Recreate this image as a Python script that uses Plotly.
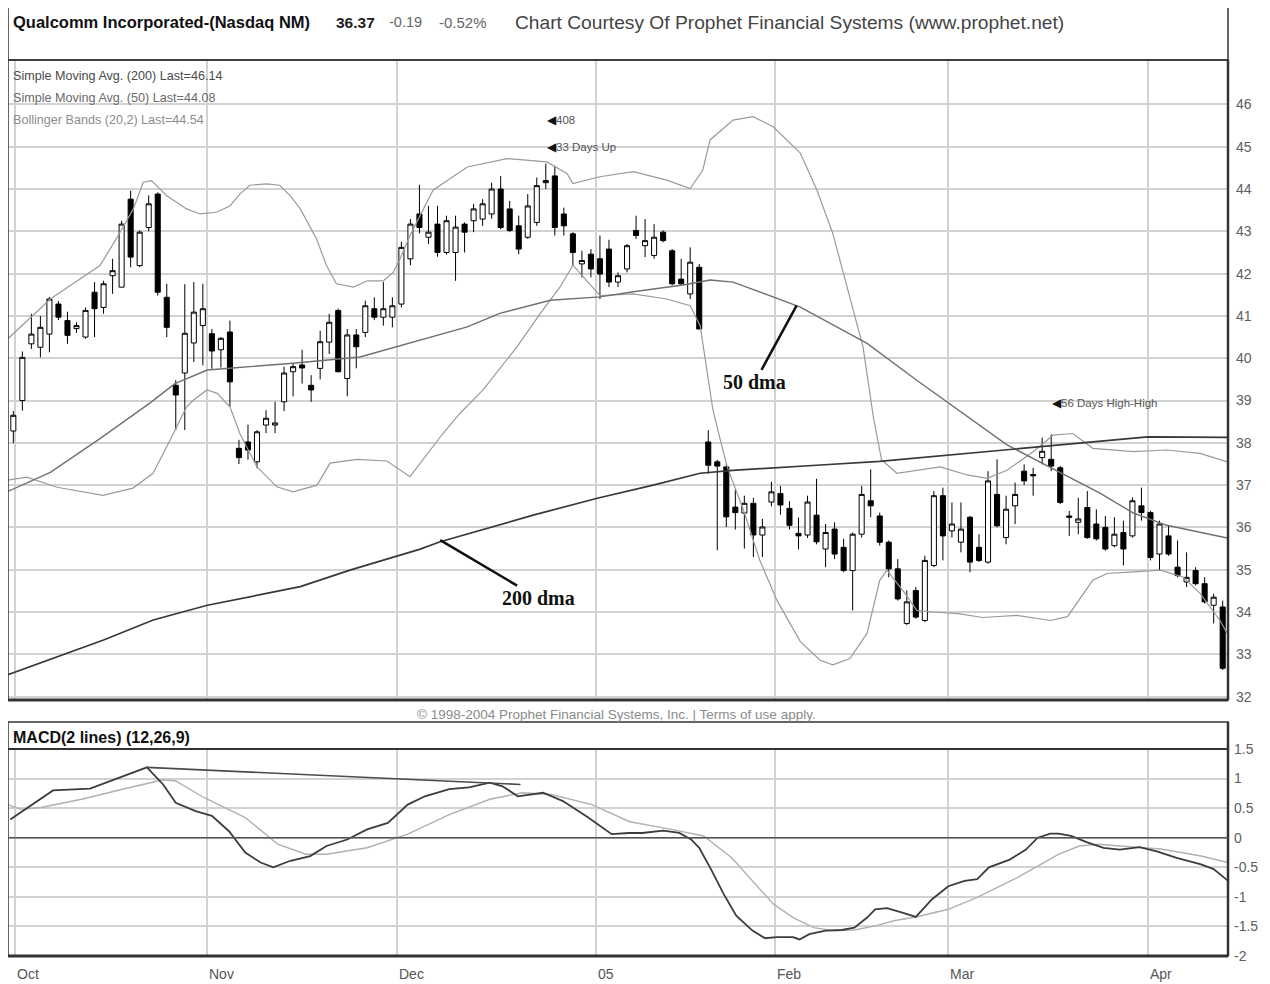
import plotly.graph_objects as go

# ---------------- data ----------------
day_index = list(range(135))  # trading days, 30 Sep 2004 .. 13 Apr 2005

opens = [38.28, 39.00, 40.34, 40.26, 40.57, 41.28, 40.89, 40.70, 40.50, 41.56,
         41.20, 41.95, 41.68, 43.76, 42.19, 43.09, 43.88, 41.44, 39.36, 39.65,
         40.36, 40.77, 40.58, 40.20, 40.62, 37.87, 38.02, 37.55, 38.42, 38.42,
         38.97, 39.68, 39.84, 39.36, 39.76, 40.38, 41.13, 39.52, 40.55, 40.61,
         41.17, 40.97, 40.97, 41.28, 42.35, 43.41, 42.86, 43.17, 42.50, 42.50,
         43.17, 43.25, 43.29, 43.41, 44.00, 43.53, 43.13, 42.86, 43.21, 44.15,
         44.31, 43.41, 42.94, 42.23, 42.46, 42.35, 42.58, 41.80, 42.11, 43.02,
         42.66, 42.43, 42.98, 42.54, 41.87, 41.52, 42.15, 38.02, 37.55, 37.43,
         36.48, 36.34, 36.57, 35.82, 36.60, 36.80, 36.45, 35.86, 35.82, 36.29,
         35.49, 35.96, 35.53, 34.98, 35.84, 36.63, 36.27, 35.65, 35.02, 33.73,
         34.51, 33.80, 35.10, 36.75, 35.92, 35.65, 36.24, 35.53, 35.18, 36.78,
         35.76, 36.51, 37.33, 37.25, 37.65, 37.61, 37.41, 36.27, 36.12, 36.47,
         36.08, 36.00, 35.57, 35.88, 35.80, 36.51, 36.35, 35.37, 35.80, 35.06,
         34.71, 34.98, 34.67, 34.16, 34.12]
highs = [38.75, 40.16, 41.05, 41.00, 41.45, 41.35, 41.10, 40.85, 41.20, 41.80,
         41.83, 42.35, 43.25, 43.96, 43.02, 43.85, 43.92, 41.76, 39.48, 41.75,
         41.80, 41.76, 40.69, 40.50, 40.89, 38.07, 38.43, 38.30, 38.77, 38.97,
         39.80, 39.88, 40.20, 39.60, 40.65, 41.05, 41.17, 40.69, 40.69, 41.36,
         41.44, 41.80, 41.44, 42.75, 43.29, 44.10, 43.60, 43.60, 43.37, 43.37,
         43.21, 43.65, 43.76, 44.15, 44.31, 43.72, 43.37, 43.88, 44.27, 44.60,
         44.55, 43.56, 42.98, 42.54, 42.58, 42.90, 42.80, 42.03, 42.70, 43.37,
         43.29, 43.17, 43.02, 42.58, 42.35, 42.62, 42.23, 38.30, 37.60, 37.49,
         36.90, 36.75, 36.70, 36.20, 37.08, 36.98, 36.62, 36.23, 36.75, 37.15,
         36.08, 36.12, 35.73, 35.88, 36.98, 37.37, 36.35, 35.69, 35.25, 34.51,
         34.59, 35.33, 36.86, 36.94, 36.59, 36.59, 36.27, 35.84, 37.33, 37.61,
         36.75, 37.06, 37.49, 37.41, 38.12, 38.20, 37.45, 36.39, 36.70, 36.86,
         36.43, 36.27, 36.24, 36.16, 36.71, 36.94, 36.39, 36.16, 36.04, 35.69,
         35.41, 35.06, 34.82, 34.43, 34.27]
lows = [37.99, 38.76, 40.22, 40.02, 40.14, 40.90, 40.34, 40.60, 40.46, 40.50,
        41.05, 41.52, 41.68, 42.15, 42.15, 43.00, 41.48, 40.50, 38.30, 38.30,
        39.91, 39.83, 39.75, 39.78, 38.85, 37.50, 37.60, 37.40, 38.23, 38.23,
        38.75, 39.10, 39.40, 38.97, 39.50, 40.10, 39.67, 39.10, 39.76, 40.50,
        40.90, 40.77, 40.73, 41.20, 42.20, 42.95, 42.70, 42.40, 42.45, 41.83,
        42.50, 42.98, 43.13, 43.30, 43.05, 42.98, 42.46, 42.82, 43.13, 44.00,
        42.90, 42.90, 42.19, 41.91, 41.91, 41.40, 41.68, 41.68, 42.03, 42.82,
        42.39, 42.35, 42.74, 41.72, 41.72, 41.40, 40.69, 37.27, 35.46, 36.01,
        35.95, 35.50, 35.30, 35.30, 36.50, 36.30, 35.95, 35.48, 35.75, 35.60,
        35.06, 35.25, 34.94, 34.04, 35.76, 36.24, 35.57, 34.82, 34.27, 33.69,
        33.84, 33.76, 35.06, 35.22, 35.76, 35.41, 34.94, 35.18, 35.14, 36.00,
        35.60, 36.08, 37.00, 36.75, 37.49, 37.33, 36.55, 35.80, 35.84, 35.73,
        35.69, 35.45, 35.53, 35.10, 35.76, 36.16, 35.22, 34.98, 35.33, 34.82,
        34.59, 34.63, 34.20, 33.73, 32.63]
closes = [38.65, 40.02, 40.57, 40.73, 41.40, 40.97, 40.54, 40.77, 41.13, 41.17,
          41.76, 42.07, 43.17, 42.39, 42.98, 43.65, 41.56, 40.73, 39.13, 40.59,
          41.09, 41.17, 40.17, 40.47, 39.44, 37.65, 37.83, 38.26, 38.58, 38.47,
          39.65, 39.80, 39.77, 39.25, 40.39, 40.85, 39.68, 40.55, 40.27, 41.24,
          40.97, 41.17, 41.24, 42.62, 43.17, 43.09, 42.98, 42.50, 43.25, 43.10,
          42.98, 43.53, 43.65, 44.00, 43.09, 43.02, 42.58, 43.60, 44.08, 44.20,
          43.09, 43.13, 42.50, 42.31, 42.11, 41.99, 41.80, 41.95, 42.66, 42.90,
          42.78, 42.86, 42.78, 41.76, 41.76, 42.27, 40.69, 37.47, 37.45, 36.25,
          36.35, 36.57, 35.82, 36.01, 36.84, 36.53, 36.05, 35.80, 36.60, 35.66,
          35.88, 35.37, 34.98, 35.84, 36.78, 36.51, 35.65, 35.02, 34.31, 34.24,
          33.88, 35.22, 36.75, 35.80, 36.08, 35.96, 35.18, 35.22, 37.10, 36.04,
          36.43, 36.78, 37.10, 37.22, 37.80, 37.45, 36.59, 36.24, 36.20, 35.76,
          35.73, 35.49, 35.84, 35.49, 36.63, 36.35, 35.29, 36.08, 35.37, 34.86,
          34.82, 34.67, 34.24, 34.35, 32.67]

sma200_x = [-0.6, 10, 15.5, 21.5, 31.8, 37.3, 45, 47.3, 57.6, 64.7, 70.9, 76.1,
            79.7, 85, 89, 96, 103.6, 113, 125.7, 134.6]
sma200 = [32.52, 33.34, 33.81, 34.16, 34.60, 34.99, 35.48, 35.66, 36.29, 36.69,
          37.00, 37.28, 37.35, 37.41, 37.47, 37.56, 37.71, 37.90, 38.14, 38.13]

sma50_x = [-0.6, 4.1, 9.6, 15.2, 17.9, 21.5, 24.3, 29.6, 31.0, 38.4, 45.1, 50.3,
           53.9, 59.5, 65.0, 68.7, 74.2, 77.2, 79.75, 87.2, 94.6, 100.1, 110.1,
           116.8, 120.4, 124.1, 127.8, 134.5]
sma50 = [36.85, 37.30, 38.10, 38.95, 39.40, 39.72, 39.77, 39.85, 39.88, 40.03,
         40.43, 40.74, 41.06, 41.37, 41.45, 41.57, 41.73, 41.85, 41.80, 41.21,
         40.35, 39.48, 37.95, 37.20, 36.81, 36.34, 36.05, 35.75]

bb_upper_x = [-0.6, 4.1, 9.6, 11.4, 13.3, 14.4, 15.3, 17.0, 19.2, 20.7, 22.5,
              24.0, 25.1, 26.2, 28.1, 29.5, 30.7, 31.8, 33.6, 34.7, 35.8, 37.7,
              39.2, 41.0, 42.1, 42.85, 43.95, 45.06, 46.5, 50.3, 54.7, 59.1,
              61.35, 62.0, 65.0, 68.7, 72.4, 75.0, 76.4, 77.2, 79.75, 81.96,
              84.2, 87.2, 89.05, 90.8, 92.7, 94.15, 95.3, 96.2, 97.9, 100.1,
              102.7, 105.7, 107.9, 110.1, 113.0, 115.2, 117.4, 119.6, 124.1,
              127.8, 131.5, 134.5]
bb_upper = [40.46, 41.40, 42.19, 42.82, 43.53, 44.16, 44.20, 43.84, 43.53, 43.41,
            43.45, 43.60, 43.88, 44.09, 44.12, 44.09, 43.84, 43.53, 42.82, 42.19,
            41.76, 41.68, 41.83, 41.83, 42.03, 42.35, 42.90, 43.37, 43.97, 44.52,
            44.72, 44.64, 44.37, 44.13, 44.29, 44.41, 44.21, 44.01, 44.45, 45.16,
            45.63, 45.71, 45.47, 44.85, 43.97, 42.95, 41.45, 40.27, 38.60, 37.60,
            37.28, 37.35, 37.43, 37.24, 37.16, 37.35, 37.79, 38.18, 38.22, 37.87,
            37.79, 37.83, 37.75, 37.55]

bb_lower_x = [-0.6, 1.5, 4.84, 9.94, 13.26, 15.48, 17.36, 19.2, 19.9, 21.46,
              22.6, 24.0, 25.1, 27.0, 29.2, 31.0, 33.65, 35.1, 38.08, 41.4,
              43.95, 46.5, 47.6, 49.5, 52.05, 55.8, 58.4, 60.6, 62.0, 65.0,
              68.66, 72.4, 75.0, 76.1, 77.5, 78.3, 79.1, 80.9, 82.7, 84.6,
              87.2, 89.4, 90.8, 92.7, 94.6, 96.0, 96.8, 98.8, 100.1, 101.9,
              104.7, 107.4, 111.2, 114.9, 116.8, 119.6, 121.2, 124.1, 127.1,
              129.6, 131.5, 133.7, 134.5]
bb_lower = [37.12, 37.19, 36.95, 36.76, 36.93, 37.28, 38.06, 38.85, 39.00, 39.25,
            39.17, 38.85, 38.22, 37.43, 36.96, 36.84, 37.00, 37.52, 37.61, 37.57,
            37.20, 37.90, 38.22, 38.70, 39.25, 40.27, 41.06, 41.69, 42.20, 41.48,
            41.52, 41.40, 41.24, 40.77, 38.80, 38.10, 37.43, 36.41, 35.23, 34.28,
            33.30, 32.86, 32.75, 32.90, 33.50, 34.75, 34.99, 34.44, 34.04, 34.00,
            33.96, 33.87, 33.92, 33.80, 33.89, 34.75, 34.91, 34.95, 34.99, 34.83,
            34.44, 33.80, 33.50]

macd_x = [-0.34, 4.4, 8.5, 11.65, 14.8, 16.6, 18.0, 20.2, 22.0, 23.9, 25.7, 27.4,
          28.8, 30.7, 32.9, 34.7, 37.0, 39.2, 41.5, 43.7, 45.6, 48.3, 50.5, 52.8,
          54.2, 55.9, 58.7, 60.9, 63.7, 66.3, 68.2, 69.7, 72.0, 73.8, 75.1, 76.0,
          77.4, 78.7, 80.1, 81.9, 83.3, 84.6, 86.4, 87.1, 88.2, 90.0, 91.8, 93.2,
          94.6, 95.5, 96.8, 98.6, 100.0, 101.8, 103.6, 105.4, 106.8, 108.1,
          110.4, 112.2, 113.5, 114.9, 115.8, 117.2, 119.0, 120.8, 122.6, 124.8,
          126.7, 128.9, 131.6, 133.0, 133.9, 134.6]
macd = [0.31, 0.80, 0.83, 1.01, 1.19, 0.90, 0.59, 0.45, 0.37, 0.11, -0.25, -0.42,
        -0.50, -0.39, -0.31, -0.14, -0.03, 0.14, 0.25, 0.56, 0.70, 0.82, 0.85,
        0.93, 0.87, 0.70, 0.76, 0.62, 0.34, 0.06, 0.08, 0.08, 0.12, 0.08, -0.03,
        -0.17, -0.56, -0.95, -1.32, -1.57, -1.70, -1.68, -1.68, -1.72, -1.63,
        -1.57, -1.56, -1.52, -1.35, -1.21, -1.19, -1.27, -1.34, -1.04, -0.82,
        -0.73, -0.70, -0.50, -0.37, -0.20, 0.00, 0.07, 0.07, 0.03, -0.08, -0.17,
        -0.20, -0.16, -0.23, -0.34, -0.45, -0.53, -0.65, -0.73]

signal_x = [-0.6, 0.79, 3.05, 7.57, 12.1, 16.6, 18.0, 21.1, 25.7, 29.3, 32.4,
            34.7, 39.2, 43.7, 48.3, 52.8, 56.4, 59.6, 64.1, 68.3, 72.9, 76.5,
            79.6, 81.9, 84.2, 86.4, 88.7, 90.9, 93.2, 95.5, 97.7, 100.0, 103.6,
            106.8, 109.0, 111.3, 113.5, 115.8, 118.1, 120.3, 122.6, 124.8, 127.1,
            129.4, 131.6, 134.6]
signal = [0.56, 0.48, 0.51, 0.65, 0.82, 0.98, 0.96, 0.68, 0.34, -0.11, -0.28,
          -0.28, -0.17, 0.06, 0.39, 0.65, 0.76, 0.73, 0.56, 0.27, 0.14, 0.03,
          -0.34, -0.73, -1.12, -1.35, -1.52, -1.57, -1.56, -1.49, -1.40, -1.34,
          -1.21, -1.01, -0.84, -0.67, -0.48, -0.28, -0.14, -0.11, -0.14, -0.17,
          -0.19, -0.25, -0.31, -0.42]

macd_trend_x = [14.8, 56.2]
macd_trend = [1.19, 0.90]

month_labels = ["Oct", "Nov", "Dec", "05", "Feb", "Mar", "Apr"]
month_bounds = [0.2, 21.5, 42.5, 64.6, 84.4, 103.6, 125.7]
price_ticks = [32, 33, 34, 35, 36, 37, 38, 39, 40, 41, 42, 43, 44, 45, 46]
macd_ticks = [-2, -1.5, -1, -0.5, 0, 0.5, 1, 1.5]
macd_tick_text = ["-2", "-1.5", "-1", "-0.5", "0", "0.5", "1", "1.5"]

# ---------------- figure ----------------
FONT = "Liberation Sans, Arial, sans-serif"
SERIF = "Liberation Serif, Times New Roman, serif"
GRID = "#d2d2d2"

fig = go.Figure()

fig.add_trace(go.Candlestick(
    x=day_index, open=opens, high=highs, low=lows, close=closes,
    increasing=dict(line=dict(color="black", width=1), fillcolor="white"),
    decreasing=dict(line=dict(color="black", width=1), fillcolor="black"),
    whiskerwidth=0, xaxis="x", yaxis="y", showlegend=False, name="QCOM"))

fig.add_trace(go.Scatter(x=bb_upper_x, y=bb_upper, mode="lines",
                         line=dict(color="#9a9a9a", width=1.2), xaxis="x", yaxis="y"))
fig.add_trace(go.Scatter(x=bb_lower_x, y=bb_lower, mode="lines",
                         line=dict(color="#9a9a9a", width=1.2), xaxis="x", yaxis="y"))
fig.add_trace(go.Scatter(x=sma50_x, y=sma50, mode="lines",
                         line=dict(color="#707070", width=1.4), xaxis="x", yaxis="y"))
fig.add_trace(go.Scatter(x=sma200_x, y=sma200, mode="lines",
                         line=dict(color="#383838", width=1.7), xaxis="x", yaxis="y"))

fig.add_trace(go.Scatter(x=signal_x, y=signal, mode="lines",
                         line=dict(color="#b0b0b0", width=1.4), xaxis="x2", yaxis="y2"))
fig.add_trace(go.Scatter(x=macd_x, y=macd, mode="lines",
                         line=dict(color="#3c3c3c", width=1.8), xaxis="x2", yaxis="y2"))
fig.add_trace(go.Scatter(x=macd_trend_x, y=macd_trend, mode="lines",
                         line=dict(color="#4a4a4a", width=1.6), xaxis="x2", yaxis="y2"))

# The page shows the figure 8 px in from the top-left corner, so the figure is
# 8 px smaller and its plot area is placed at page pixels x 8..1228, y 60..956.
W, H = 1262, 976
PLOT_L, PLOT_R, PLOT_T, PLOT_B = 8, 1228, 60, 956   # page pixels
OFF = 8
ML, MT = PLOT_L - OFF, PLOT_T - OFF
MR, MB = W - (PLOT_R - OFF), H - (PLOT_B - OFF)
PW, PH = PLOT_R - PLOT_L, PLOT_B - PLOT_T


def py(pix):
    return (PLOT_B - pix) / PH


def px(pix):
    return (pix - PLOT_L) / PW


xr = [-0.59, 134.59]
fig.update_layout(
    width=W, height=H, margin=dict(l=ML, r=MR, t=MT, b=MB, pad=0),
    paper_bgcolor="white", plot_bgcolor="white", showlegend=False,
    boxgap=0.2,
    font=dict(family=FONT, color="#555"),
    xaxis=dict(domain=[0, 1], range=xr, anchor="y", tickvals=month_bounds,
               showticklabels=False, showgrid=True, gridcolor=GRID, gridwidth=1.5,
               zeroline=False, rangeslider=dict(visible=False), ticks=""),
    yaxis=dict(domain=[py(700), 1.0], range=[31.92, 47.05], side="right",
               tickvals=price_ticks, showgrid=True, gridcolor=GRID, gridwidth=1.5,
               zeroline=False, ticks="", ticklabelstandoff=7,
               tickfont=dict(size=14, color="#5e5e5e")),
    xaxis2=dict(domain=[0, 1], range=xr, anchor="y2", tickvals=month_bounds,
                showticklabels=False, showgrid=True, gridcolor=GRID, gridwidth=1.5,
                zeroline=False, ticks=""),
    yaxis2=dict(domain=[0, py(749)], range=[-2.0, 1.5], side="right",
                tickvals=macd_ticks, ticktext=macd_tick_text, showgrid=True,
                gridcolor=GRID, gridwidth=1.5, zeroline=False, ticks="",
                ticklabelstandoff=5, tickfont=dict(size=14, color="#5e5e5e")),
)

shapes = []
# header box
shapes.append(dict(type="rect", xref="paper", yref="paper", x0=0, x1=1,
                   y0=py(60), y1=py(6), line=dict(color="#333", width=1.5)))
# price panel frame
shapes.append(dict(type="rect", xref="paper", yref="paper", x0=0, x1=1,
                   y0=py(700), y1=1.0, line=dict(color="#333", width=1.5)))
shapes.append(dict(type="line", xref="paper", yref="paper", x0=0, x1=1,
                   y0=py(700), y1=py(700), line=dict(color="#333", width=3)))
shapes.append(dict(type="line", xref="paper", yref="paper", x0=1, x1=1,
                   y0=py(700), y1=1.0, line=dict(color="#333", width=2.5)))
# MACD panel frame
shapes.append(dict(type="rect", xref="paper", yref="paper", x0=0, x1=1,
                   y0=0, y1=py(722), line=dict(color="#333", width=1.5)))
shapes.append(dict(type="line", xref="paper", yref="paper", x0=0, x1=1,
                   y0=py(749), y1=py(749), line=dict(color="#333", width=2)))
shapes.append(dict(type="line", xref="paper", yref="paper", x0=0, x1=1,
                   y0=0, y1=0, line=dict(color="#333", width=3)))
shapes.append(dict(type="line", xref="paper", yref="paper", x0=1, x1=1,
                   y0=0, y1=py(722), line=dict(color="#333", width=2.5)))
# MACD zero line
shapes.append(dict(type="line", xref="paper", yref="y2", x0=0, x1=1, y0=0, y1=0,
                   line=dict(color="#555", width=1.5)))
fig.update_layout(shapes=shapes)

ann = []
# header texts
hy = py(22)
ann.append(dict(xref="paper", yref="paper", x=px(11), y=hy, xanchor="left",
                yanchor="middle", showarrow=False,
                text="<b>Qualcomm Incorporated-(Nasdaq NM)</b>",
                font=dict(size=16.5, color="#111", family=FONT)))
ann.append(dict(xref="paper", yref="paper", x=px(334), y=hy, xanchor="left",
                yanchor="middle", showarrow=False, text="<b>36.37</b>",
                font=dict(size=15.5, color="#222", family=FONT)))
ann.append(dict(xref="paper", yref="paper", x=px(387), y=hy, xanchor="left",
                yanchor="middle", showarrow=False, text="-0.19",
                font=dict(size=14.5, color="#666", family=FONT)))
ann.append(dict(xref="paper", yref="paper", x=px(437), y=hy, xanchor="left",
                yanchor="middle", showarrow=False, text="-0.52%",
                font=dict(size=15, color="#666", family=FONT)))
ann.append(dict(xref="paper", yref="paper", x=px(513), y=hy, xanchor="left",
                yanchor="middle", showarrow=False,
                text="Chart Courtesy Of Prophet Financial Systems (www.prophet.net)",
                font=dict(size=19.2, color="#444", family=FONT)))
# indicator legend
for txt, yy, col in [("Simple Moving Avg. (200) Last=46.14", 76, "#4a4a4a"),
                     ("Simple Moving Avg. (50) Last=44.08", 98, "#6a6a6a"),
                     ("Bollinger Bands (20,2) Last=44.54", 120, "#8c8c8c")]:
    ann.append(dict(xref="paper", yref="paper", x=px(11), y=py(yy), xanchor="left",
                    yanchor="middle", showarrow=False, text=txt,
                    font=dict(size=12.6, color=col, family=FONT)))
# event markers
for txt, xi, yv in [("408", 58.9, 45.62), ("33 Days Up", 58.9, 45.0),
                    ("56 Days High-High", 114.9, 38.95)]:
    ann.append(dict(xref="x", yref="y", x=xi, y=yv, xanchor="left", yanchor="middle",
                    showarrow=False,
                    text='<span style="color:#111">◀</span>' + txt,
                    font=dict(size=11.5, color="#555", family=FONT)))
# hand-drawn labels
ann.append(dict(xref="x", yref="y", x=86.8, y=41.25, ax=-42, ay=77, showarrow=True,
                arrowhead=0, arrowwidth=2.5, arrowcolor="#111", text="<b>50 dma</b>",
                font=dict(size=20, color="#111", family=SERIF)))
ann.append(dict(xref="x", yref="y", x=47.3, y=35.70, ax=98, ay=58, showarrow=True,
                arrowhead=0, arrowwidth=2.5, arrowcolor="#111", text="<b>200 dma</b>",
                font=dict(size=20, color="#111", family=SERIF)))
# copyright
ann.append(dict(xref="paper", yref="paper", x=px(616), y=py(714), xanchor="center",
                yanchor="middle", showarrow=False,
                text="© 1998-2004 Prophet Financial Systems, Inc. | Terms of use apply.",
                font=dict(size=13.5, color="#8a8a8a", family=FONT)))
# MACD title
ann.append(dict(xref="paper", yref="paper", x=px(11), y=py(737), xanchor="left",
                yanchor="middle", showarrow=False, text="<b>MACD(2 lines) (12,26,9)</b>",
                font=dict(size=16, color="#111", family=FONT)))
# month labels
for lab, xb in zip(month_labels, month_bounds):
    ann.append(dict(xref="x2", yref="paper", x=xb, y=py(974), xanchor="left",
                    yanchor="middle", showarrow=False, text=lab,
                    font=dict(size=14, color="#555", family=FONT)))
fig.update_layout(annotations=ann)

fig.write_html("out.html")
